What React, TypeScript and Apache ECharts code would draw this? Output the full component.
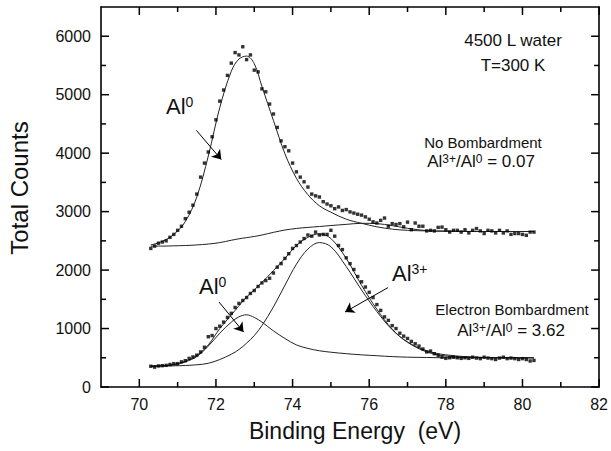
import React, { useEffect, useRef } from 'react';
import * as echarts from 'echarts';

// Binding energy (eV) of the measured points
const energy = [
  70.3, 70.4, 70.5, 70.6, 70.7, 70.8, 70.9, 71.0, 71.1, 71.2,
  71.3, 71.4, 71.5, 71.6, 71.7, 71.8, 71.9, 72.0, 72.1, 72.2,
  72.3, 72.4, 72.5, 72.6, 72.7, 72.8, 72.9, 73.0, 73.1, 73.2,
  73.3, 73.4, 73.5, 73.6, 73.7, 73.8, 73.9, 74.0, 74.1, 74.2,
  74.3, 74.4, 74.5, 74.6, 74.7, 74.8, 74.9, 75.0, 75.1, 75.2,
  75.3, 75.4, 75.5, 75.6, 75.7, 75.8, 75.9, 76.0, 76.1, 76.2,
  76.3, 76.4, 76.5, 76.6, 76.7, 76.8, 76.9, 77.0, 77.1, 77.2,
  77.3, 77.4, 77.5, 77.6, 77.7, 77.8, 77.9, 78.0, 78.1, 78.2,
  78.3, 78.4, 78.5, 78.6, 78.7, 78.8, 78.9, 79.0, 79.1, 79.2,
  79.3, 79.4, 79.5, 79.6, 79.7, 79.8, 79.9, 80.0, 80.1, 80.2,
  80.3,
];

// No bombardment spectrum (total counts)
const noBombCounts = [
  2370, 2410, 2460, 2480, 2500, 2560, 2610, 2680, 2750, 2880,
  2990, 3110, 3300, 3590, 3830, 4020, 4280, 4570, 4890, 5080,
  5330, 5540, 5720, 5680, 5820, 5600, 5680, 5420, 5390, 5100,
  5050, 4840, 4670, 4440, 4210, 4110, 4040, 3830, 3680, 3590,
  3510, 3420, 3300, 3270, 3250, 3170, 3130, 3100, 3050, 3080,
  3020, 3035, 2995, 2975, 2955, 2940, 2910, 2870, 2825, 2805,
  2850, 2890, 2750, 2795, 2780, 2795, 2740, 2820, 2690, 2805,
  2750, 2750, 2670, 2680, 2670, 2730, 2735, 2690, 2650, 2680,
  2680, 2650, 2690, 2635, 2680, 2710, 2670, 2625, 2680, 2670,
  2635, 2680, 2635, 2670, 2610, 2625, 2625, 2610, 2595, 2650,
  2650,
];

// Electron bombardment spectrum (total counts)
const electronBombCounts = [
  355, 340, 360, 365, 370, 385, 400, 400, 430, 450,
  490, 515, 545, 600, 680, 860, 880, 1000, 1040, 1110,
  1190, 1260, 1360, 1430, 1480, 1530, 1600, 1650, 1720, 1780,
  1820, 1860, 1950, 2050, 2110, 2200, 2280, 2370, 2420, 2480,
  2540, 2600, 2580, 2650, 2600, 2610, 2610, 2680, 2580, 2420,
  2350, 2210, 2110, 2010, 1890, 1800, 1710, 1620, 1530, 1410,
  1310, 1200, 1140, 1050, 1000, 920, 870, 830, 780, 740,
  700, 650, 600, 615, 570, 540, 510, 490, 500, 510,
  500, 490, 500, 490, 510, 495, 485, 510, 495, 485,
  470, 495, 510, 485, 495, 485, 470, 485, 470, 445,
  455,
];

// Fitted curves, sampled at these energies
const fitEnergy = [
  70.3, 70.6, 70.9, 71.2, 71.5, 71.8, 72.1, 72.4, 72.6, 72.8,
  73.0, 73.2, 73.5, 73.8, 74.1, 74.4, 74.7, 75.0, 75.4, 75.8,
  76.2, 76.6, 77.0, 77.5, 78.0, 79.0, 80.3,
];
const noBombFit = [
  2430, 2490, 2610, 2830, 3250, 3950, 4780, 5400, 5610, 5660,
  5530, 5140, 4560, 3990, 3570, 3290, 3100, 2990, 2870, 2800,
  2740, 2700, 2680, 2670, 2665, 2660, 2660,
];
const noBombBackground = [
  2410, 2410, 2415, 2420, 2430, 2445, 2470, 2510, 2535, 2555,
  2575, 2600, 2645, 2685, 2712, 2730, 2745, 2762, 2782, 2800,
  2795, 2760, 2715, 2675, 2665, 2660, 2660,
];
const electronFit = [
  360, 365, 385, 440, 540, 720, 1000, 1230, 1390, 1540,
  1660, 1790, 1990, 2200, 2420, 2560, 2620, 2540, 2200, 1740,
  1330, 990, 765, 600, 530, 505, 500,
];
const electronAl0 = [
  355, 362, 380, 430, 520, 700, 920, 1110, 1200, 1235,
  1190, 1110, 960, 830, 720, 660, 620, 595, 570, 550,
  535, 520, 510, 505, 500, 500, 500,
];
const electronAl3 = [
  355, 358, 362, 368, 380, 405, 470, 560, 640, 750,
  880, 1050, 1370, 1740, 2100, 2360, 2470, 2400, 2060, 1660,
  1290, 980, 770, 620, 550, 505, 500,
];

const xMajorTicks = [70, 72, 74, 76, 78, 80, 82];
const xMinorTicks = [71, 73, 75, 77, 79, 81];
const yMajorTicks = [0, 1000, 2000, 3000, 4000, 5000, 6000];
const yMinorTicks = [500, 1500, 2500, 3500, 4500, 5500];

const X_MIN = 69;
const X_MAX = 82;
const Y_MIN = 0;
const Y_MAX = 6500;

const GRID = { left: 101, top: 7, width: 502, height: 380 };

const FONT = '"Liberation Sans", Arial, Helvetica, sans-serif';

const zip = (xs: number[], ys: number[]) => xs.map((x, i) => [x, ys[i]]);

export default function App() {
  const ref = useRef<HTMLDivElement>(null);

  useEffect(() => {
    document.body.style.margin = '0';
    if (!ref.current) return;
    const chart = echarts.init(ref.current, null, { renderer: 'svg' });

    const plain = (v: number) => String(v);

    const lineSeries = (data: number[][], extra: any = {}) => ({
      type: 'line',
      data,
      smooth: 0.35,
      showSymbol: false,
      symbol: 'none',
      lineStyle: { color: '#222', width: 1 },
      silent: true,
      z: 2,
      ...extra,
    });

    const arrow = (a: number[], b: number[]) => [{ coord: a }, { coord: b }];

    const richSup = (big: number, small: number) => ({
      n: { fontSize: big, fontFamily: FONT, fill: '#111', verticalAlign: 'bottom' },
      s: { fontSize: small, fontFamily: FONT, fill: '#111', verticalAlign: 'top' },
    });

    const texts: any[] = [
      {
        type: 'text',
        x: 355,
        y: 431,
        style: { text: 'Binding Energy\u00a0\u00a0(eV)', fontSize: 23, fontFamily: FONT, fill: '#111', align: 'center', verticalAlign: 'middle' },
      },
      {
        type: 'text',
        x: 19,
        y: 188,
        rotation: Math.PI / 2,
        style: { text: 'Total Counts', fontSize: 24, fontFamily: FONT, fill: '#111', align: 'center', verticalAlign: 'middle' },
      },
      {
        type: 'text',
        x: 513,
        y: 40,
        style: { text: '4500 L water', fontSize: 17, fontFamily: FONT, fill: '#111', align: 'center', verticalAlign: 'middle' },
      },
      {
        type: 'text',
        x: 513,
        y: 65,
        style: { text: 'T=300 K', fontSize: 17, fontFamily: FONT, fill: '#111', align: 'center', verticalAlign: 'middle' },
      },
      {
        type: 'text',
        x: 483,
        y: 142,
        style: { text: 'No Bombardment', fontSize: 15, fontFamily: FONT, fill: '#111', align: 'center', verticalAlign: 'middle' },
      },
      {
        type: 'text',
        x: 481,
        y: 161,
        style: { text: '{n|Al}{s|3+}{n|/Al}{s|0}{n| = 0.07}', align: 'center', verticalAlign: 'middle', rich: richSup(17, 12) },
      },
      {
        type: 'text',
        x: 512,
        y: 309,
        style: { text: 'Electron Bombardment', fontSize: 15, fontFamily: FONT, fill: '#111', align: 'center', verticalAlign: 'middle' },
      },
      {
        type: 'text',
        x: 511,
        y: 330,
        style: { text: '{n|Al}{s|3+}{n|/Al}{s|0}{n| = 3.62}', align: 'center', verticalAlign: 'middle', rich: richSup(17, 12) },
      },
      {
        type: 'text',
        x: 166,
        y: 106,
        style: { text: '{n|Al}{s|0}', align: 'left', verticalAlign: 'middle', rich: richSup(22, 14) },
      },
      {
        type: 'text',
        x: 199,
        y: 286,
        style: { text: '{n|Al}{s|0}', align: 'left', verticalAlign: 'middle', rich: richSup(22, 14) },
      },
      {
        type: 'text',
        x: 392,
        y: 273,
        style: { text: '{n|Al}{s|3+}', align: 'left', verticalAlign: 'middle', rich: richSup(22, 14) },
      },
    ];

    const axisLine = { show: true, onZero: false, lineStyle: { color: '#000', width: 1.6 } };

    const option: any = {
      animation: false,
      grid: { ...GRID },
      xAxis: [
        {
          type: 'value',
          min: X_MIN,
          max: X_MAX,
          position: 'bottom',
          splitLine: { show: false },
          axisLine,
          axisTick: { show: false },
          axisLabel: { show: true, customValues: xMajorTicks, formatter: plain, fontSize: 16, color: '#111', margin: 9, fontFamily: FONT },
        },
        {
          type: 'value',
          min: X_MIN,
          max: X_MAX,
          position: 'top',
          splitLine: { show: false },
          axisLine,
          axisTick: { show: false },
          axisLabel: { show: false },
        },
      ],
      yAxis: [
        {
          type: 'value',
          min: Y_MIN,
          max: Y_MAX,
          position: 'left',
          splitLine: { show: false },
          axisLine,
          axisTick: { show: false },
          axisLabel: { show: true, customValues: yMajorTicks, formatter: plain, fontSize: 16, color: '#111', margin: 10, fontFamily: FONT },
        },
        {
          type: 'value',
          min: Y_MIN,
          max: Y_MAX,
          position: 'right',
          splitLine: { show: false },
          axisLine,
          axisTick: { show: false },
          axisLabel: { show: false },
        },
      ],
      series: [
        lineSeries(zip(fitEnergy, noBombBackground)),
        lineSeries(zip(fitEnergy, noBombFit), {
          markLine: {
            silent: true,
            symbol: ['none', 'arrow'],
            symbolSize: 9,
            label: { show: false },
            lineStyle: { color: '#000', width: 1, type: 'solid' },
            data: [
              arrow([71.49, 4390], [72.14, 3890]),
              arrow([72.08, 1454], [72.72, 941]),
              arrow([76.49, 1700], [75.37, 1283]),
            ],
          },
        }),
        lineSeries(zip(fitEnergy, electronAl0)),
        lineSeries(zip(fitEnergy, electronAl3)),
        lineSeries(zip(fitEnergy, electronFit)),
        {
          type: 'scatter',
          data: zip(energy, noBombCounts),
          symbol: 'rect',
          symbolSize: 3.4,
          itemStyle: { color: '#000' },
          silent: true,
          z: 3,
        },
        {
          type: 'scatter',
          data: zip(energy, electronBombCounts),
          symbol: 'rect',
          symbolSize: 3.4,
          itemStyle: { color: '#000' },
          silent: true,
          z: 3,
        },
      ],
    };

    chart.setOption(option);

    // Tick marks on all four sides, placed through the chart's own scales
    const toPx = (x: number, y: number): number[] => {
      const p = chart.convertToPixel({ xAxisIndex: 0, yAxisIndex: 0 }, [x, y]) as any;
      const fx = GRID.left + ((x - X_MIN) / (X_MAX - X_MIN)) * GRID.width;
      const fy = GRID.top + GRID.height - ((y - Y_MIN) / (Y_MAX - Y_MIN)) * GRID.height;
      const okX = p && Number.isFinite(p[0]) ? p[0] : fx;
      const okY = p && Number.isFinite(p[1]) ? p[1] : fy;
      return [okX, okY];
    };
    const [left, bottom] = toPx(X_MIN, Y_MIN);
    const [right, top] = toPx(X_MAX, Y_MAX);
    const tickStyle = { stroke: '#000', lineWidth: 1.5 };
    const ticks: any[] = [];
    const addX = (vals: number[], len: number) => {
      vals.forEach((v) => {
        const x = toPx(v, Y_MIN)[0];
        ticks.push({ type: 'line', shape: { x1: x, y1: bottom, x2: x, y2: bottom - len }, style: tickStyle });
        ticks.push({ type: 'line', shape: { x1: x, y1: top, x2: x, y2: top + len }, style: tickStyle });
      });
    };
    const addY = (vals: number[], len: number) => {
      vals.forEach((v) => {
        const y = toPx(X_MIN, v)[1];
        ticks.push({ type: 'line', shape: { x1: left, y1: y, x2: left + len, y2: y }, style: tickStyle });
        ticks.push({ type: 'line', shape: { x1: right, y1: y, x2: right - len, y2: y }, style: tickStyle });
      });
    };
    addX(xMajorTicks, 8);
    addX(xMinorTicks, 5);
    addY(yMajorTicks, 8);
    addY(yMinorTicks, 5);

    chart.setOption({ graphic: [...ticks, ...texts] });

    return () => chart.dispose();
  }, []);

  return <div ref={ref} style={{ width: 611, height: 451 }} />;
}
